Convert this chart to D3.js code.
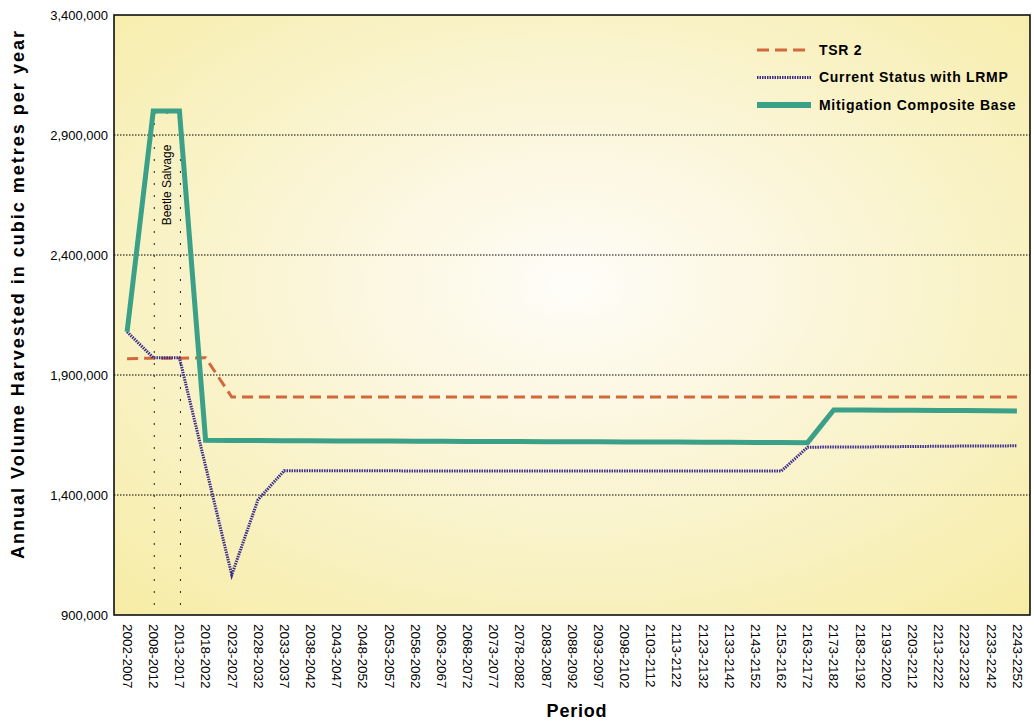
<!DOCTYPE html>
<html lang="en">
<head>
    <meta charset="UTF-8">
    <title>Annual Volume Harvested</title>
    <script src="https://d3js.org/d3.v7.min.js"></script>
    <style>
        body {
            margin: 0;
            background: #ffffff;
            font-family: "Liberation Sans", Arial, sans-serif;
        }
        svg {
            display: block;
        }
    </style>
</head>
<body>
    <div id="container"></div>

    <script>
        // periods on the x axis
        const periods = ['2002-2007', '2008-2012', '2013-2017', '2018-2022', '2023-2027', '2028-2032',
            '2033-2037', '2038-2042', '2043-2047', '2048-2052', '2053-2057', '2058-2062', '2063-2067',
            '2068-2072', '2073-2077', '2078-2082', '2083-2087', '2088-2092', '2093-2097', '2098-2102',
            '2103-2112', '2113-2122', '2123-2132', '2133-2142', '2143-2152', '2153-2162', '2163-2172',
            '2173-2182', '2183-2192', '2193-2202', '2203-2212', '2213-2222', '2223-2232', '2233-2242',
            '2243-2252'];

        // series values (cubic metres per year)
        const tsr2 = [1968000, 1970000, 1970000, 1972000, 1808000, 1808000, 1808000, 1808000, 1808000,
            1808000, 1808000, 1808000, 1808000, 1808000, 1808000, 1808000, 1808000, 1808000, 1808000,
            1808000, 1808000, 1808000, 1808000, 1808000, 1808000, 1808000, 1808000, 1808000, 1808000,
            1808000, 1808000, 1808000, 1808000, 1808000, 1808000];

        const currentLrmp = [2080000, 1972000, 1972000, 1520000, 1067000, 1380000, 1501000, 1501000,
            1501000, 1501000, 1501000, 1500000, 1500000, 1500000, 1500000, 1500000, 1500000, 1500000,
            1500000, 1500000, 1500000, 1500000, 1500000, 1500000, 1500000, 1500000, 1599000, 1600000,
            1600000, 1601000, 1602000, 1603000, 1604000, 1604000, 1605000];

        const mitigation = [2080000, 3000000, 3000000, 1628000, 1627000, 1627000, 1626000, 1626000,
            1625000, 1625000, 1625000, 1624000, 1624000, 1623000, 1623000, 1623000, 1622000, 1622000,
            1622000, 1621000, 1621000, 1621000, 1620000, 1620000, 1619000, 1619000, 1618000, 1754000,
            1754000, 1753000, 1753000, 1752000, 1752000, 1751000, 1750000];

        const yTicks = [900000, 1400000, 1900000, 2400000, 2900000, 3400000];
        const salvagePeriods = ['2008-2012', '2013-2017'];

        const seriesNames = ['TSR 2', 'Current Status with LRMP', 'Mitigation Composite Base'];

        const width = 1034;
        const height = 721;
        const margin = {left: 114, top: 15, right: 4, bottom: 106};

        const svg = d3.select('#container').append('svg')
            .attr('width', width)
            .attr('height', height);

        // background gradient
        const defs = svg.append('defs');
        const grad = defs.append('radialGradient')
            .attr('id', 'bg')
            .attr('cx', '50%').attr('cy', '45%').attr('r', '75%');
        grad.append('stop').attr('offset', '0%').attr('stop-color', '#fefdf8');
        grad.append('stop').attr('offset', '35%').attr('stop-color', '#fbf6dc');
        grad.append('stop').attr('offset', '100%').attr('stop-color', '#f6eca4');

        // scales
        const x = d3.scalePoint()
            .domain(periods)
            .range([margin.left, width - margin.right])
            .padding(0.5);

        const y = d3.scaleLinear()
            .domain([900000, 3400000])
            .range([height - margin.bottom, margin.top]);

        const plotW = width - margin.right - margin.left;
        const plotH = height - margin.bottom - margin.top;

        svg.append('rect')
            .attr('x', margin.left)
            .attr('y', margin.top)
            .attr('width', plotW)
            .attr('height', plotH)
            .attr('fill', 'url(#bg)');

        // gridlines
        svg.selectAll('.grid')
            .data(yTicks.slice(1, -1))
            .enter()
            .append('line')
            .attr('x1', margin.left)
            .attr('x2', width - margin.right)
            .attr('y1', d => y(d))
            .attr('y2', d => y(d))
            .attr('stroke', '#000')
            .attr('stroke-width', 1)
            .attr('stroke-dasharray', '1.5,1.5');

        // beetle salvage markers
        svg.selectAll('.salvage')
            .data(salvagePeriods)
            .enter()
            .append('line')
            .attr('x1', d => x(d) + 1)
            .attr('x2', d => x(d) + 1)
            .attr('y1', y(3000000))
            .attr('y2', y(900000))
            .attr('stroke', '#222')
            .attr('stroke-width', 1)
            .attr('stroke-dasharray', '2,10');

        svg.append('line')
            .attr('x1', x(salvagePeriods[0]) + 1)
            .attr('x2', x(salvagePeriods[1]) + 1)
            .attr('y1', y(3000000) + 2)
            .attr('y2', y(3000000) + 2)
            .attr('stroke', '#222')
            .attr('stroke-width', 1)
            .attr('stroke-dasharray', '2,10');

        const salvageX = (x(salvagePeriods[0]) + x(salvagePeriods[1])) / 2;
        svg.append('text')
            .attr('transform', 'translate(' + (salvageX + 5) + ',' + 185 + ') rotate(-90)')
            .attr('text-anchor', 'middle')
            .style('font-size', '12px')
            .style('font-family', '"Liberation Sans Narrow", "Liberation Sans", Arial, sans-serif')
            .text('Beetle Salvage');

        // lines
        const line = d3.line()
            .x((d, i) => x(periods[i]))
            .y(d => y(d));

        const styles = [
            {data: tsr2, color: '#d2693a', width: 3, dash: '11,6'},
            {data: currentLrmp, color: '#3b2c8c', width: 3, dash: '1.5,1'},
            {data: mitigation, color: '#3aa088', width: 5, dash: null}
        ];

        styles.forEach(s => {
            svg.append('path')
                .datum(s.data)
                .attr('d', line)
                .attr('fill', 'none')
                .attr('stroke', s.color)
                .attr('stroke-width', s.width)
                .attr('stroke-dasharray', s.dash);
        });

        // frame
        svg.append('rect')
            .attr('x', margin.left)
            .attr('y', margin.top)
            .attr('width', plotW)
            .attr('height', plotH)
            .attr('fill', 'none')
            .attr('stroke', '#000')
            .attr('stroke-width', 1.5);

        // y tick labels
        svg.selectAll('.ytick')
            .data(yTicks)
            .enter()
            .append('text')
            .attr('x', margin.left - 6)
            .attr('y', d => y(d))
            .attr('dy', '0.35em')
            .attr('text-anchor', 'end')
            .style('font-size', '13px')
            .text(d => d3.format(',')(d));

        // x tick labels
        svg.selectAll('.xtick')
            .data(periods)
            .enter()
            .append('text')
            .attr('transform', d => 'translate(' + (x(d) + 0.5) + ',' + 624 + ') rotate(90)')
            .attr('dy', '0.35em')
            .attr('text-anchor', 'start')
            .style('font-size', '13.5px')
            .text(d => d);

        // axis titles
        svg.append('text')
            .attr('transform', 'translate(24,' + 294 + ') rotate(-90)')
            .attr('text-anchor', 'middle')
            .style('font-size', '18px')
            .style('font-weight', 'bold')
            .style('letter-spacing', '2px')
            .text('Annual Volume Harvested in cubic metres per year');

        svg.append('text')
            .attr('x', 577)
            .attr('y', 717)
            .attr('text-anchor', 'middle')
            .style('font-size', '18px')
            .style('font-weight', 'bold')
            .style('letter-spacing', '0.8px')
            .text('Period');

        // legend
        const legend = svg.append('g');
        styles.forEach((s, i) => {
            const ly = 50 + i * 27.5;
            legend.append('line')
                .attr('x1', 757)
                .attr('x2', 811)
                .attr('y1', ly)
                .attr('y2', ly)
                .attr('stroke', s.color)
                .attr('stroke-width', s.width + (i === 2 ? 1 : 0))
                .attr('stroke-dasharray', i === 0 ? '12,6' : s.dash);
            legend.append('text')
                .attr('x', 819)
                .attr('y', ly)
                .attr('dy', '0.35em')
                .style('font-size', '14px')
                .style('font-weight', 'bold')
                .style('letter-spacing', '0.7px')
                .text(seriesNames[i]);
        });
    </script>
</body>
</html>
